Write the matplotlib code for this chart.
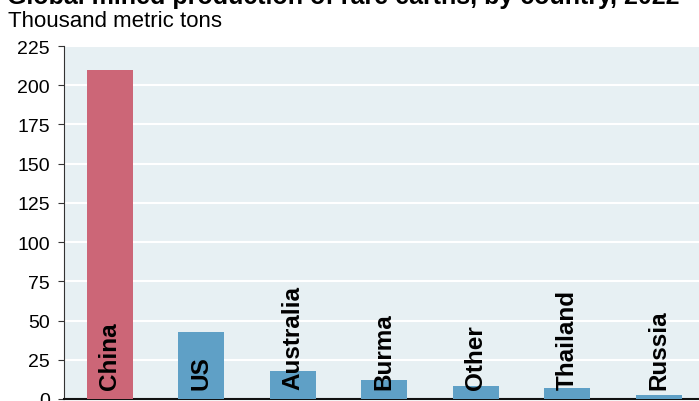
import matplotlib
matplotlib.use("Agg")
import matplotlib.pyplot as plt

categories = ["China", "US", "Australia", "Burma", "Other", "Thailand", "Russia"]
values = [210, 43, 18, 12, 8.6, 7.1, 2.6]
yticks = [0, 25, 50, 75, 100, 125, 150, 175, 200, 225]
title = "Global mined production of rare earths, by country, 2022"
subtitle = "Thousand metric tons"

plt.rcParams['font.family'] = ['Liberation Sans', 'DejaVu Sans']

W, H = 699, 402
fig = plt.figure(figsize=(W / 100, H / 100), dpi=100)
left, right, top, bottom = 64, 704.5, 47, 400
ax = fig.add_axes([left / W, 1 - bottom / H, (right - left) / W, (bottom - top) / H])

ax.set_facecolor('#E7F0F3')
colors = ['#CC6677'] + ['#5FA0C6'] * (len(categories) - 1)
x = list(range(len(categories)))
ax.bar(x, values, width=0.5, color=colors, zorder=3)

ax.set_ylim(0, 225)
ax.set_xlim(-0.5, len(categories) - 0.5)
ax.set_yticks(yticks)
ax.set_yticklabels([str(t) for t in yticks], fontsize=14)
ax.set_xticks([])
ax.yaxis.grid(True, color='white', linewidth=1.5, zorder=1)
ax.set_axisbelow(True)
for s in ['top', 'right']:
    ax.spines[s].set_visible(False)
ax.spines['left'].set_color('#333333')
ax.spines['bottom'].set_color('#111111')
ax.spines['bottom'].set_linewidth(1.5)
ax.tick_params(axis='y', length=4, color='#333333', pad=6)

for xi, cat in zip(x, categories):
    ax.annotate(cat, xy=(xi, 0), xytext=(0, 10), textcoords='offset pixels',
                rotation=90, ha='center', va='bottom', fontsize=17.5,
                fontweight='bold', color='black', zorder=5)

fig.text(7 / W, 1 - 4 / H, title, fontsize=18, fontweight='bold',
         ha='left', va='baseline')
fig.text(8 / W, 1 - 27 / H, subtitle, fontsize=16, ha='left', va='baseline')

fig.savefig('out.png', dpi=100)
